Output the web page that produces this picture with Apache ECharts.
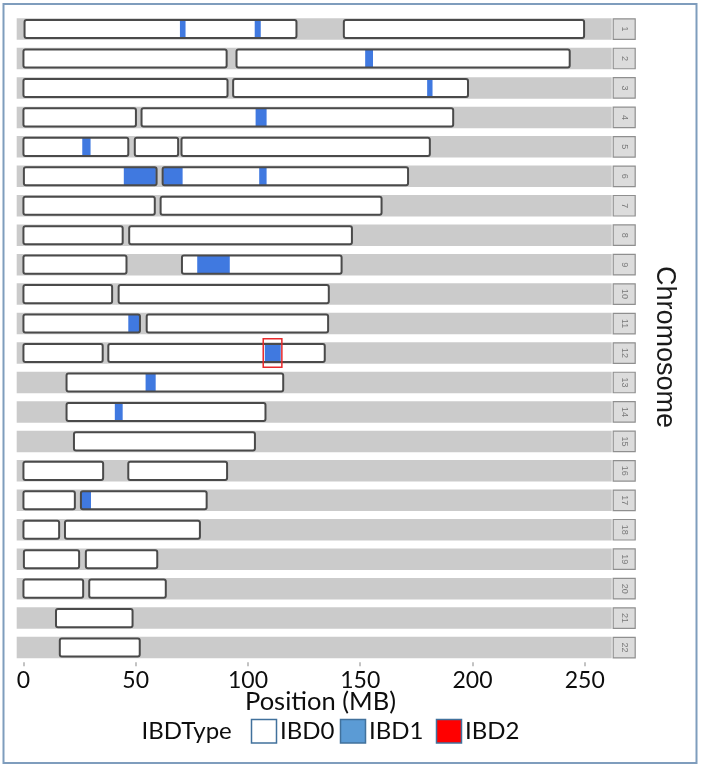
<!DOCTYPE html>
<html>
<head>
<meta charset="utf-8">
<script src="https://cdn.jsdelivr.net/npm/echarts@6/dist/echarts.min.js"></script>
<style>
html,body{margin:0;padding:0;background:#fff;}
#chart{width:702px;height:769px;}
</style>
</head>
<body>
<div id="chart"></div>
<script>
// ---- data (MB) ----
const chromosomes = ['1','2','3','4','5','6','7','8','9','10','11','12','13','14','15','16','17','18','19','20','21','22'];
const xTicks = [0, 50, 100, 150, 200, 250];
const xRange = [-3, 262];
// chromosome arms / segments (IBD0 boxes): [chromosome, start, end]
const ibd0Segments = [
  [1,0.5,121.6],[1,142.7,249.7],
  [2,0,90.5],[2,94.9,243.3],
  [3,0,90.9],[3,93.4,198],
  [4,0,50.1],[4,52.6,191.4],
  [5,0,46.7],[5,49.6,68.9],[5,70.4,181],
  [6,0.2,59.3],[6,62,171.3],
  [7,0,58.5],[7,61.1,159.5],
  [8,0,44.2],[8,47.1,146.3],
  [9,0,45.9],[9,70.6,141.7],
  [10,0,39.5],[10,42.4,136],
  [11,0,51.9],[11,54.9,135.7],
  [12,0,35.3],[12,37.8,134.2],
  [13,19.2,115.7],
  [14,19.2,107.8],
  [15,22.5,103.1],
  [16,0,35.5],[16,46.7,90.7],
  [17,0,22.9],[17,25.6,81.6],
  [18,0,15.9],[18,18.5,78.6],
  [19,0.2,24.8],[19,27.8,59.6],
  [20,0,26.6],[20,29.3,63.4],
  [21,14.5,48.6],
  [22,16.2,51.8]
];
// IBD1 regions: [chromosome, start, end]
const ibd1Segments = [
  [1,69.7,72.2],[1,103,105.7],
  [2,152.2,155.7],
  [3,179.8,182.2],
  [4,103.4,108.3],
  [5,26.2,29.9],
  [6,44.7,59],[6,62.2,70.9],[6,105,108.3],
  [9,77.4,91.9],
  [11,46.7,51.9],
  [12,107.5,114.6],
  [13,54.4,58.9],
  [14,40.7,44.2],
  [17,25.6,30.1]
];
// highlighted region (red outline)
const highlightSegments = [[12,106.8,115.1]];
// background bands: one per chromosome over the whole range
const bandSegments = chromosomes.map((c, i) => [i + 1, xRange[0], xRange[1]]);
const legendLabels = ['IBD0', 'IBD1', 'IBD2'];
const legendTitle = 'IBDType';

const chart = echarts.init(document.getElementById('chart'));

function geom(api) {
  const c = api.value(0), s = api.value(1), e = api.value(2);
  const p0 = api.coord([s, c]);
  const p1 = api.coord([e, c]);
  const step = api.size([0, 1])[1];
  return {x0: p0[0], x1: p1[0], cy: p0[1], step: step};
}

const BAND_FRAC = 0.73;
const enc = {x: [1, 2], y: 0};

const option = {
  backgroundColor: '#ffffff',
  animation: false,
  grid: {left: 16.7, right: 90.3, top: 14.3, bottom: 106.7, containLabel: false},
  xAxis: {
    type: 'value', min: xRange[0], max: xRange[1],
    axisLine: {show: false},
    splitLine: {show: false},
    axisTick: {show: true, customValues: xTicks, length: 4, lineStyle: {color: '#b0b0b0', width: 1.5}},
    axisLabel: {show: true, customValues: xTicks, margin: 7, color: '#0d0d0d', fontSize: 23, fontFamily: 'Lato'}
  },
  yAxis: {
    type: 'value', min: 0.5, max: 22.5, inverse: true, show: false
  },
  series: [
    { // gray bands
      type: 'custom', encode: enc, data: bandSegments, silent: true, z: 1,
      renderItem: function (params, api) {
        const g = geom(api);
        const h = g.step * BAND_FRAC;
        return {type: 'rect', shape: {x: g.x0, y: g.cy - h / 2, width: g.x1 - g.x0, height: h},
          style: {fill: '#cbcbcb'}};
      }
    },
    { // strip labels
      type: 'custom', encode: enc, data: bandSegments, silent: true, z: 1,
      renderItem: function (params, api) {
        const g = geom(api);
        const h = g.step * BAND_FRAC;
        const x = g.x1 + 1.5, w = 22;
        return {type: 'group', children: [
          {type: 'rect', shape: {x: x, y: g.cy - h / 2 + 0.5, width: w, height: h - 1},
            style: {fill: '#dcdcdc', stroke: '#8f8f8f', lineWidth: 1.2}},
          {type: 'text', x: x + w / 2, y: g.cy, rotation: -Math.PI / 2,
            style: {text: chromosomes[params.dataIndex], fill: '#7a7a7a', fontSize: 9,
              fontFamily: 'Liberation Sans', align: 'center', verticalAlign: 'middle'}}
        ]};
      }
    },
    { // IBD0 boxes (fill)
      type: 'custom', encode: enc, data: ibd0Segments, silent: true, z: 2,
      renderItem: function (params, api) {
        const g = geom(api);
        const h = g.step * BAND_FRAC - 3.4;
        return {type: 'rect', shape: {x: g.x0, y: g.cy - h / 2, width: g.x1 - g.x0, height: h},
          style: {fill: '#ffffff'}};
      }
    },
    { // IBD1 regions
      type: 'custom', encode: enc, data: ibd1Segments, silent: true, z: 3,
      renderItem: function (params, api) {
        const g = geom(api);
        const h = g.step * BAND_FRAC - 3.4;
        return {type: 'rect', shape: {x: g.x0, y: g.cy - h / 2, width: g.x1 - g.x0, height: h},
          style: {fill: '#4079e0'}};
      }
    },
    { // IBD0 box outlines
      type: 'custom', encode: enc, data: ibd0Segments, silent: true, z: 4,
      renderItem: function (params, api) {
        const g = geom(api);
        const h = g.step * BAND_FRAC - 3.4;
        return {type: 'rect', shape: {x: g.x0, y: g.cy - h / 2, width: g.x1 - g.x0, height: h, r: 2},
          style: {fill: null, stroke: '#4a4a4a', lineWidth: 2}};
      }
    },
    { // highlight
      type: 'custom', encode: enc, data: highlightSegments, silent: true, z: 5,
      renderItem: function (params, api) {
        const g = geom(api);
        const h = g.step * BAND_FRAC + 7;
        return {type: 'rect', shape: {x: g.x0, y: g.cy - h / 2, width: g.x1 - g.x0, height: h},
          style: {fill: null, stroke: '#e8292b', lineWidth: 1.5}};
      }
    }
  ],
  graphic: [
    {type: 'rect', shape: {x: 3.5, y: 4, width: 693, height: 759}, silent: true,
      style: {fill: null, stroke: '#7f9dbd', lineWidth: 2}},
    {type: 'text', x: 664, y: 347, rotation: -Math.PI / 2,
      style: {text: 'Chromosome', fontSize: 27, fontFamily: 'Liberation Sans', fill: '#1a1a1a',
        align: 'center', verticalAlign: 'middle'}},
    {type: 'text', x: 320.5, y: 702,
      style: {text: 'Position (MB)', fontSize: 25.5, fontFamily: 'Lato', fill: '#0d0d0d',
        align: 'center', verticalAlign: 'middle'}},
    {type: 'text', x: 141.5, y: 731,
      style: {text: legendTitle, fontSize: 24, fontFamily: 'Lato', fill: '#0d0d0d',
        align: 'left', verticalAlign: 'middle'}},
    {type: 'rect', shape: {x: 251.5, y: 719.5, width: 25, height: 23.5},
      style: {fill: '#ffffff', stroke: '#41719c', lineWidth: 1.5}},
    {type: 'text', x: 280, y: 731,
      style: {text: legendLabels[0], fontSize: 24, fontFamily: 'Lato', fill: '#0d0d0d', align: 'left', verticalAlign: 'middle'}},
    {type: 'rect', shape: {x: 340.5, y: 719.5, width: 25, height: 23.5},
      style: {fill: '#5b9bd5', stroke: '#41719c', lineWidth: 1.5}},
    {type: 'text', x: 369, y: 731,
      style: {text: legendLabels[1], fontSize: 24, fontFamily: 'Lato', fill: '#0d0d0d', align: 'left', verticalAlign: 'middle'}},
    {type: 'rect', shape: {x: 436.5, y: 719.5, width: 25, height: 23.5},
      style: {fill: '#ff0000', stroke: '#41719c', lineWidth: 1.5}},
    {type: 'text', x: 465, y: 731,
      style: {text: legendLabels[2], fontSize: 24, fontFamily: 'Lato', fill: '#0d0d0d', align: 'left', verticalAlign: 'middle'}}
  ]
};
chart.setOption(option);
</script>
</body>
</html>
